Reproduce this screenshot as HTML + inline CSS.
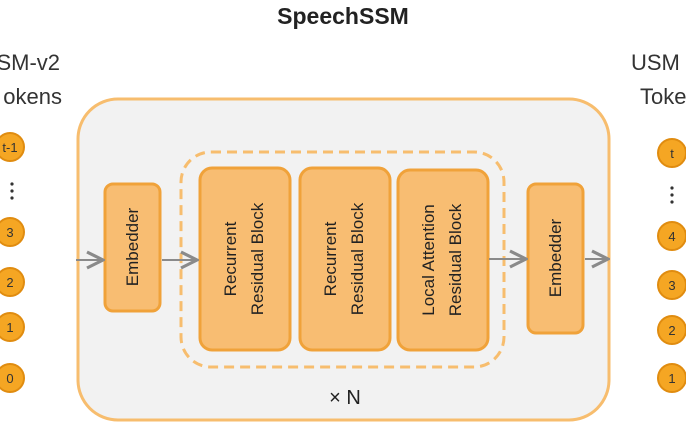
<!DOCTYPE html>
<html><head><style>body{margin:0;background:#fff}</style></head><body>
<svg width="686" height="440" xmlns="http://www.w3.org/2000/svg" font-family="Liberation Sans, DejaVu Sans, sans-serif">
<defs><marker id="a" markerWidth="10" markerHeight="10" refX="9" refY="5" orient="auto"><path d="M1,1 L9,5 L1,9" fill="none" stroke="#8a8a8a" stroke-width="1.6"/></marker></defs>
<text x="343" y="24" text-anchor="middle" font-size="23" font-weight="bold" fill="#222">SpeechSSM</text>
<text x="60" y="70" text-anchor="end" font-size="22" fill="#333">SM-v2</text>
<text x="62" y="104" text-anchor="end" font-size="22" fill="#333">okens</text>
<text x="631" y="70" font-size="22" fill="#333">USM</text>
<text x="640" y="104" font-size="22" fill="#333">Toke</text>
<rect x="78" y="99" width="531" height="321" rx="40" fill="#f2f2f2" stroke="#f7bd6e" stroke-width="3"/>
<rect x="181" y="152" width="323" height="215" rx="30" fill="none" stroke="#f7bd6e" stroke-width="3" stroke-dasharray="10 6"/>
<g fill="#f8bd72" stroke="#f0a23a" stroke-width="3">
<rect x="105" y="184" width="55" height="127" rx="8"/>
<rect x="200" y="168" width="90" height="182" rx="12"/>
<rect x="300" y="168" width="90" height="182" rx="12"/>
<rect x="398" y="170" width="90" height="180" rx="12"/>
<rect x="528" y="184" width="55" height="149" rx="8"/>
</g>
<g font-size="17" fill="#222" text-anchor="middle">
<text transform="translate(138,247) rotate(-90)">Embedder</text>
<text transform="translate(561,258) rotate(-90)">Embedder</text>
<text transform="translate(236,259) rotate(-90)">Recurrent</text>
<text transform="translate(263,259) rotate(-90)">Residual Block</text>
<text transform="translate(336,259) rotate(-90)">Recurrent</text>
<text transform="translate(363,259) rotate(-90)">Residual Block</text>
<text transform="translate(434,260) rotate(-90)">Local Attention</text>
<text transform="translate(461,260) rotate(-90)">Residual Block</text>
</g>
<text x="345" y="404" text-anchor="middle" font-size="20" fill="#222">× N</text>
<g stroke="#8a8a8a" stroke-width="2" marker-end="url(#a)">
<line x1="76" y1="260" x2="103" y2="260"/>
<line x1="162" y1="260" x2="197" y2="260"/>
<line x1="489" y1="259" x2="526" y2="259"/>
<line x1="585" y1="259" x2="608" y2="259"/>
</g>
<g fill="#f5a623" stroke="#e08c10" stroke-width="2">
<circle cx="10" cy="147" r="14"/><circle cx="10" cy="232" r="14"/><circle cx="10" cy="282" r="14"/><circle cx="10" cy="327" r="14"/><circle cx="10" cy="378" r="14"/>
<circle cx="672" cy="153" r="14"/><circle cx="672" cy="236" r="14"/><circle cx="672" cy="285" r="14"/><circle cx="672" cy="330" r="14"/><circle cx="672" cy="378" r="14"/>
</g>
<g font-size="13" fill="#333" text-anchor="middle">
<text x="10" y="152">t-1</text><text x="10" y="237">3</text><text x="10" y="287">2</text><text x="10" y="332">1</text><text x="10" y="383">0</text>
<text x="672" y="158">t</text><text x="672" y="241">4</text><text x="672" y="290">3</text><text x="672" y="335">2</text><text x="672" y="383">1</text>
</g>
<g fill="#333">
<circle cx="12" cy="184" r="1.6"/><circle cx="12" cy="191" r="1.6"/><circle cx="12" cy="198" r="1.6"/>
<circle cx="672" cy="188" r="1.6"/><circle cx="672" cy="195" r="1.6"/><circle cx="672" cy="202" r="1.6"/>
</g>
</svg>
</body></html>
